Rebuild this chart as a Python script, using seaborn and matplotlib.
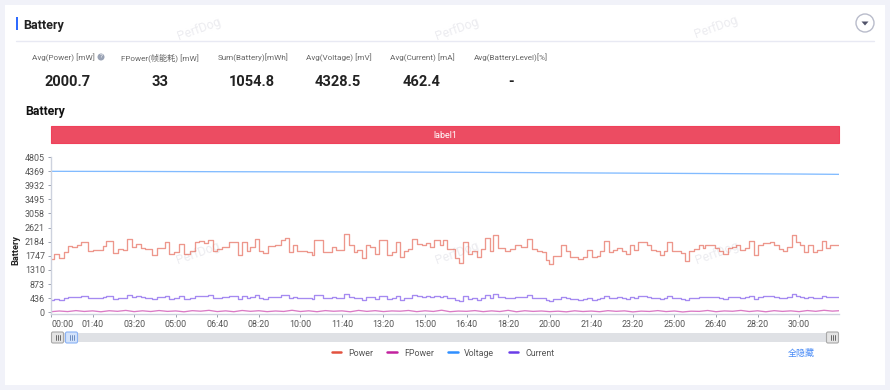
# -*- coding: utf-8 -*-
import pandas as pd
import matplotlib
matplotlib.use("Agg")
import matplotlib.pyplot as plt
from matplotlib.patches import Rectangle, Circle, FancyBboxPatch, Polygon
import seaborn as sns

# Summary row
kpi_labels = ["Avg(Power) [mW]", "FPower(帧能耗) [mW]", "Sum(Battery)[mWh]",
              "Avg(Voltage) [mV]", "Avg(Current) [mA]", "Avg(BatteryLevel)[%]"]
kpi_values = ["2000.7", "33", "1054.8", "4328.5", "462.4", "-"]

# Time in seconds where the stepped Power / Current values change
step_times = [0, 8, 20, 31, 42, 50, 62, 71, 90, 102, 124, 132, 150, 162, 174, 184, 194, 205, 216, 226,
              242, 256, 274, 285, 296, 309, 319, 334, 346, 357, 368, 378, 389, 399, 411, 429, 451, 460, 471, 480,
              491, 501, 511, 521, 539, 553, 563, 573, 583, 593, 603, 617, 627, 634, 655, 675, 686, 705, 718, 729,
              737, 748, 757, 767, 780, 788, 808, 820, 829, 840, 849, 860, 869, 880, 892, 902, 912, 922, 936, 942,
              954, 972, 982, 992, 1004, 1014, 1024, 1034, 1044, 1056, 1064, 1075, 1092, 1104, 1116, 1132, 1146, 1158, 1170, 1181,
              1191, 1199, 1209, 1226, 1239, 1249, 1269, 1279, 1289, 1301, 1313, 1321, 1331, 1343, 1353, 1363, 1373, 1384, 1392, 1403,
              1413, 1433, 1444, 1456, 1465, 1475, 1483, 1495, 1505, 1516, 1525, 1536, 1547, 1558, 1568, 1574, 1598, 1607, 1618, 1628,
              1638, 1647, 1658, 1670, 1679, 1691, 1700, 1712, 1730, 1740, 1752, 1762, 1772, 1782, 1792, 1802, 1812, 1822, 1833, 1844,
              1854, 1864, 1874, 1886, 1896]
power = [1640, 1807, 1683, 1859, 2065, 2024, 2076, 2179, 1911, 1942, 2045, 2200, 1828, 1973, 1942, 2272, 2014, 2128, 1993, 1962,
         1766, 1993, 2169, 1807, 1869, 2117, 1807, 1890, 2169, 2200, 2148, 2251, 1890, 1973, 2014, 2179, 1766, 2179, 1911, 2014,
         2272, 1890, 1838, 2045, 2076, 2251, 2303, 1869, 2076, 1890, 1911, 1859, 1787, 2251, 1869, 2034, 1921, 2437, 2096, 1869,
         1921, 1683, 2096, 2014, 1807, 2231, 1787, 1869, 2169, 1704, 1890, 1973, 2282, 2128, 2076, 2148, 2014, 2241, 2096, 2231,
         1973, 1683, 1528, 2179, 1807, 1911, 1704, 1973, 2303, 1911, 2406, 1993, 1911, 1973, 2096, 2024, 2282, 1973, 1911, 1869,
         1632, 1497, 1735, 2096, 1911, 1714, 1663, 1714, 1921, 1704, 1735, 1911, 2220, 1869, 1921, 1993, 1890, 1807, 2076, 1942,
         2179, 2096, 1921, 1890, 1766, 1890, 2179, 1911, 1890, 1838, 1580, 1911, 1973, 2096, 1993, 2096, 1993, 1890, 1817, 1993,
         2034, 2076, 1921, 1993, 2200, 1787, 2096, 2158, 2179, 2096, 1962, 1890, 2014, 2406, 2169, 2096, 1869, 2096, 1869, 1942,
         2220, 1993, 2076, 2096, 2096]
current = [379, 417, 389, 429, 477, 468, 480, 503, 441, 449, 472, 508, 422, 456, 449, 525, 465, 492, 460, 453,
           408, 460, 501, 417, 432, 489, 417, 437, 501, 508, 496, 520, 437, 456, 465, 503, 408, 503, 441, 465,
           525, 437, 425, 472, 480, 520, 532, 432, 480, 437, 441, 429, 413, 520, 432, 470, 444, 563, 484, 432,
           444, 389, 484, 465, 417, 515, 413, 432, 501, 394, 437, 456, 527, 492, 480, 496, 465, 518, 484, 515,
           456, 389, 353, 503, 417, 441, 394, 456, 532, 441, 556, 460, 441, 456, 484, 468, 527, 456, 441, 432,
           377, 346, 401, 484, 441, 396, 384, 396, 444, 394, 401, 441, 513, 432, 444, 460, 437, 417, 480, 449,
           503, 484, 444, 437, 408, 437, 503, 441, 437, 425, 365, 441, 456, 484, 460, 484, 460, 437, 420, 460,
           470, 480, 444, 460, 508, 413, 484, 498, 503, 484, 453, 437, 465, 556, 501, 484, 432, 484, 432, 449,
           513, 460, 480, 484, 484]

fpower_times = [0, 20, 40, 60, 80, 100, 120, 140, 160, 180, 200, 220, 240, 260, 280, 300, 320, 340, 360, 380,
                400, 420, 440, 460, 480, 500, 520, 540, 560, 580, 600, 620, 640, 660, 680, 700, 720, 740, 760, 780,
                800, 820, 840, 860, 880, 900, 920, 940, 960, 980, 1000, 1020, 1040, 1060, 1080, 1100, 1120, 1140, 1160, 1180,
                1200, 1220, 1240, 1260, 1280, 1300, 1320, 1340, 1360, 1380, 1400, 1420, 1440, 1460, 1480, 1500, 1520, 1540, 1560, 1580,
                1600, 1620, 1640, 1660, 1680, 1700, 1720, 1740, 1760, 1780, 1800, 1820, 1840, 1860, 1880, 1896]
fpower = [18, 40, 22, 52, 26, 44, 16, 48, 30, 58, 20, 46, 24, 54, 28, 42, 15, 50, 34, 60,
          22, 44, 18, 56, 30, 48, 20, 40, 26, 62, 24, 46, 18, 52, 32, 44, 16, 58, 28, 50,
          22, 42, 34, 56, 20, 46, 26, 64, 18, 38, 30, 52, 20, 44, 24, 60, 16, 48, 28, 40,
          20, 34, 14, 46, 24, 38, 18, 50, 30, 44, 12, 36, 26, 52, 22, 40, 10, 34, 28, 56,
          18, 42, 32, 58, 24, 46, 16, 50, 28, 44, 20, 54, 30, 62, 36, 48]

voltage_times = [0, 200, 400, 600, 800, 1000, 1200, 1400, 1600, 1800, 1896]
voltage = [4362, 4358, 4350, 4345, 4340, 4332, 4318, 4305, 4292, 4278, 4268]

y_ticks = [0, 436, 873, 1310, 1747, 2184, 2621, 3058, 3495, 3932, 4369, 4805]
x_ticks = [0, 100, 200, 300, 400, 500, 600, 700, 800, 900, 1000, 1100, 1200, 1300, 1400, 1500, 1600, 1700, 1800]
x_labels = ["00:00", "01:40", "03:20", "05:00", "06:40", "08:20", "10:00", "11:40", "13:20", "15:00",
            "16:40", "18:20", "20:00", "21:40", "23:20", "25:00", "26:40", "28:20", "30:00"]

series_order = ["Power", "FPower", "Voltage", "Current"]
legend_colors = ["#e2523f", "#c2229f", "#2f8fff", "#6a3de8"]
palette = dict(zip(series_order, legend_colors))

df = pd.concat([
    pd.DataFrame({"t": step_times, "v": power, "name": "Power"}),
    pd.DataFrame({"t": fpower_times, "v": fpower, "name": "FPower"}),
    pd.DataFrame({"t": voltage_times, "v": voltage, "name": "Voltage"}),
    pd.DataFrame({"t": step_times, "v": current, "name": "Current"}),
], ignore_index=True)

sns.set_theme(style="white")
plt.rcParams["font.family"] = ["Roboto", "Noto Sans CJK SC", "DejaVu Sans"]

W, H = 890, 390
fig = plt.figure(figsize=(W / 100, H / 100), dpi=100, facecolor="#f1f2f9")

# page furniture, in pixels
bg = fig.add_axes([0, 0, 1, 1], zorder=0)
bg.set_xlim(0, W)
bg.set_ylim(H, 0)
bg.axis("off")
bg.add_patch(Rectangle((5, 5), 880, 380, fc="white", ec="none"))
bg.add_patch(Rectangle((16, 17), 2, 13, fc="#2f6bff", ec="none"))
bg.text(23, 25, "Battery", fontsize=9, fontweight="bold", color="#222222", va="center")
bg.plot([16, 874], [40.5, 40.5], color="#e8e9f3", lw=1)
bg.add_patch(Circle((865, 23), 9, fc="white", ec="#b9bccb", lw=1))
bg.add_patch(Polygon([[861.5, 21.5], [868.5, 21.5], [865, 25.5]], fc="#50536a", ec="none"))

kpi_x = [63, 160, 253, 339, 422, 511]
value_x = [68, 160, 252, 338, 422, 511]
for lab, val, x1, x2 in zip(kpi_labels, kpi_values, kpi_x, value_x):
    bg.text(x1, 58, lab, fontsize=5.9, color="#666666", ha="center", va="center")
    bg.text(x2, 82, val, fontsize=10.5, fontweight="bold", color="#222222", ha="center", va="center")
bg.add_patch(Circle((101, 57), 3.5, fc="#9aa3b5", ec="none"))
bg.text(101, 57, "?", fontsize=4.5, color="white", ha="center", va="center")

bg.text(25, 111, "Battery", fontsize=8.8, fontweight="bold", color="#111111", va="center")
bg.add_patch(Rectangle((51, 125.5), 788, 17.5, fc="#ec4c62", ec="#f0405a", lw=0.8))
bg.text(445, 135, "label1", fontsize=6.5, color="white", ha="center", va="center")

# zoom slider
bg.add_patch(Rectangle((51, 333), 788, 9, fc="#dfe1e5", ec="none"))
for x0, fc, ec, col in [(51, "#e4e4e4", "#a8a8a8", "#555555"), (65, "#d3e3fb", "#8ab2f5", "#5f7fb5"),
                        (826, "#e4e4e4", "#a8a8a8", "#555555")]:
    bg.add_patch(FancyBboxPatch((x0 + 0.5, 332), 12, 11, boxstyle="round,pad=0,rounding_size=1.5",
                                fc=fc, ec=ec, lw=0.8))
    for dx in (5, 6.8, 8.6):
        bg.plot([x0 + dx, x0 + dx], [335, 340], color=col, lw=0.6)

bg.text(801, 353, "全隐藏", fontsize=6.5, color="#4a8cf7", ha="center", va="center")

# watermark
for wx, wy in [(199, 29), (457, 29), (716, 27), (198, 253), (457, 253), (717, 253)]:
    bg.text(wx, wy, "PerfDog", fontsize=9, color="#ececf0", rotation=20, ha="center", va="center")

# chart
ax = fig.add_axes([51 / W, 1 - 314 / H, 788 / W, 157 / H], zorder=1)
ax.patch.set_alpha(0)
sns.lineplot(data=df[df["name"].isin(["Power", "Current"])], x="t", y="v", hue="name", palette=palette,
             drawstyle="steps-post", errorbar=None, linewidth=0.95, alpha=0.6, legend=False, ax=ax)
sns.lineplot(data=df[df["name"].isin(["FPower", "Voltage"])], x="t", y="v", hue="name", palette=palette,
             errorbar=None, linewidth=0.95, alpha=0.6, legend=False, ax=ax)
ax.set_xlim(0, 1896)
ax.set_ylim(-53, 4805)
ax.set_yticks(y_ticks)
ax.set_xticks(x_ticks)
ax.set_xticklabels(x_labels)
ax.get_xticklabels()[0].set_ha("left")
ax.tick_params(axis="both", labelsize=6.4, labelcolor="#555555", color="#9aa0ad", length=2.5, width=0.7, pad=2, left=True, bottom=True)
ax.tick_params(axis="x", pad=2)
ax.set_xlabel("")
ax.set_ylabel("")
sns.despine(ax=ax)
for side in ("left", "bottom"):
    ax.spines[side].set_color("#cdd2de")
    ax.spines[side].set_linewidth(1)
bg.text(16, 250, "Battery", fontsize=6.6, fontweight="bold", color="#222222", rotation=90, ha="center", va="center")

handles = [plt.Line2D([], [], color=palette[n], lw=1.8) for n in series_order]
ax.legend(handles, series_order, ncol=4, frameon=False, fontsize=6.4, labelcolor="#555555",
          loc="center", bbox_to_anchor=(443 / W, 1 - 353 / H), bbox_transform=fig.transFigure,
          handlelength=1.1, handletextpad=0.75, columnspacing=1.6, borderpad=0)

fig.savefig("out.png", dpi=100, facecolor=fig.get_facecolor())
